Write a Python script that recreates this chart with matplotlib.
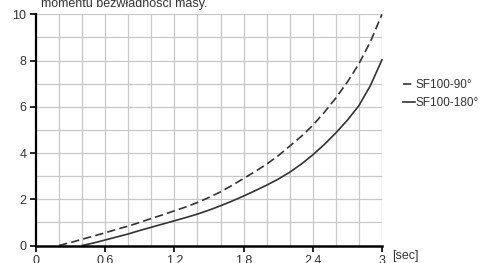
import matplotlib
matplotlib.use("Agg")
import matplotlib.pyplot as plt

plt.rcParams["font.family"] = ["Liberation Sans", "DejaVu Sans"]

# values
t_90 = [0.2, 0.3, 0.4, 0.5, 0.6, 0.7, 0.8, 0.9, 1.0, 1.1, 1.2, 1.3, 1.4, 1.5, 1.6,
        1.7, 1.8, 1.9, 2.0, 2.1, 2.2, 2.3, 2.4, 2.5, 2.6, 2.7, 2.8, 2.9, 3.0]
j_90 = [0.0, 0.13, 0.27, 0.41, 0.55, 0.7, 0.84, 1.0, 1.17, 1.33, 1.5, 1.67, 1.86, 2.08, 2.32,
        2.6, 2.9, 3.2, 3.52, 3.88, 4.3, 4.72, 5.2, 5.76, 6.38, 7.07, 7.86, 8.82, 10.0]
t_180 = [0.4, 0.5, 0.6, 0.7, 0.8, 0.9, 1.0, 1.1, 1.2, 1.3, 1.4, 1.5, 1.6, 1.7,
         1.8, 1.9, 2.0, 2.1, 2.2, 2.3, 2.4, 2.5, 2.6, 2.7, 2.8, 2.9, 3.0]
j_180 = [0.0, 0.11, 0.24, 0.37, 0.5, 0.65, 0.79, 0.93, 1.07, 1.21, 1.36, 1.53, 1.72, 1.92,
         2.14, 2.37, 2.61, 2.87, 3.17, 3.52, 3.92, 4.37, 4.87, 5.42, 6.05, 6.92, 8.03]
x_ticks = [0, 0.6, 1.2, 1.8, 2.4, 3]
x_labels = ["0", "0.6", "1.2", "1.8", "2.4", "3"]
y_ticks = [0, 2, 4, 6, 8, 10]
labels = ["SF100-90°", "SF100-180°"]

grey = "#333333"
fig = plt.figure(figsize=(4.9, 2.63), dpi=100)
ax = fig.add_axes([0.0735, 0.0665, 0.706, 0.879])

for v in [i * 0.2 for i in range(1, 16)]:
    ax.axvline(v, color="#c8c8c8", lw=0.9, zorder=0)
for v in range(1, 11):
    ax.axhline(v, color="#c8c8c8", lw=0.9, zorder=0)

ax.plot(t_90, j_90, color=grey, lw=1.2, dashes=(5, 2.5), label=labels[0], clip_on=False)
ax.plot(t_180, j_180, color=grey, lw=1.2, label=labels[1], clip_on=False)

ax.set_xlim(0, 3)
ax.set_ylim(0, 10)
ax.set_xticks(x_ticks)
ax.set_xticklabels(x_labels)
ax.set_yticks(y_ticks)
for s in ["top", "right"]:
    ax.spines[s].set_visible(False)
ax.spines["left"].set_linewidth(1.6)
ax.spines["bottom"].set_linewidth(1.8)
ax.tick_params(length=4, width=1.2, pad=3, labelsize=9, labelcolor=grey, direction="out")
ax.text(3.09, -0.2, "[sec]", fontsize=9, color=grey, va="top", ha="left", clip_on=False)

ax.legend(loc="upper left", bbox_to_anchor=(1.03, 0.765), frameon=False, fontsize=8.5,
          handlelength=1.0, handletextpad=0.1, labelspacing=0.5, labelcolor=grey)

fig.text(41 / 490, 1 - 7 / 263, "momentu bezwładności masy.", fontsize=9, color=grey,
         va="baseline", ha="left")

fig.savefig("out.png", dpi=100)
